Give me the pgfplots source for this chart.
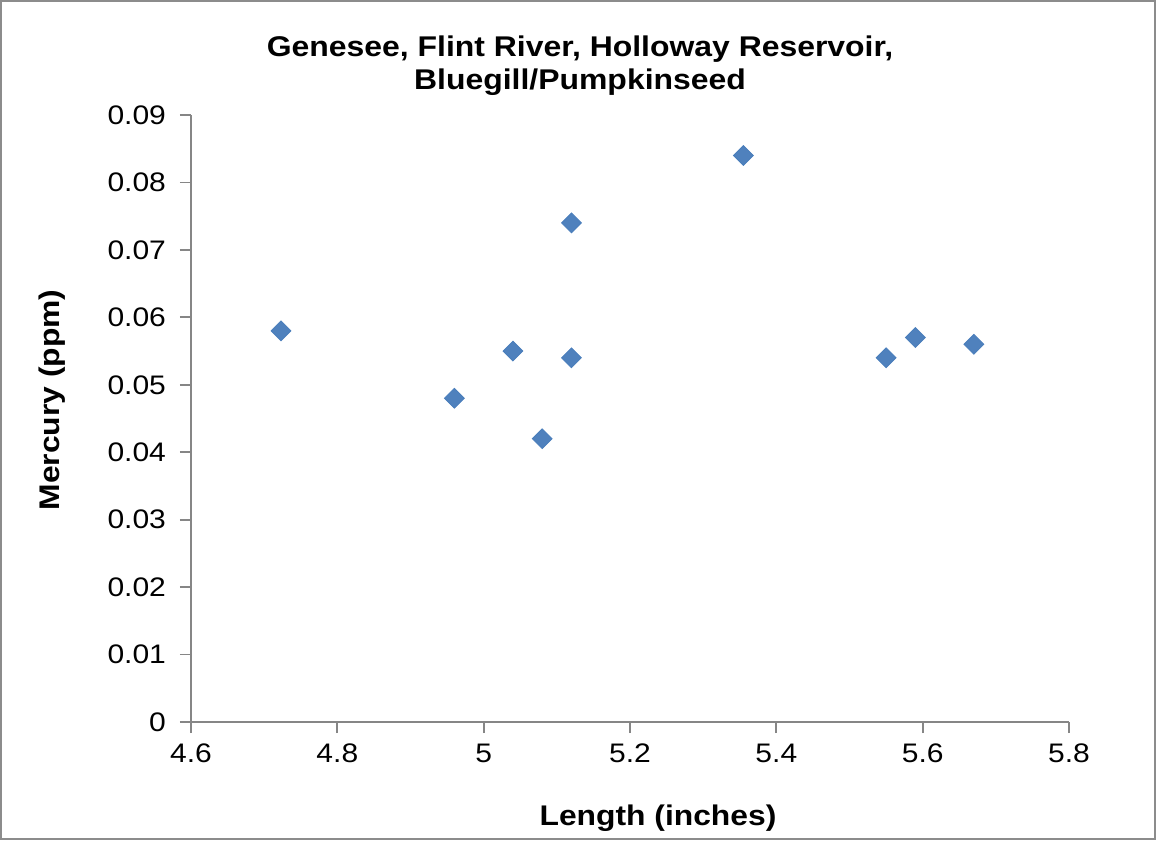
\documentclass[border=0pt]{standalone}
\usepackage{pgfplots}
\pgfplotsset{compat=1.18}
\usepackage{fontspec}
\setmainfont{Liberation Sans}[FakeStretch=1.12]
\definecolor{xlblue}{HTML}{4F81BD}
\definecolor{xlblueedge}{HTML}{4A7EBB}
\definecolor{xlgray}{HTML}{868686}
\definecolor{framegray}{HTML}{8C8C8C}
\begin{document}
\begin{tikzpicture}
\useasboundingbox (-95.5pt,-59.5pt) rectangle (482.5pt,361pt);
\draw[framegray, line width=0.8pt] (-95pt,-58.5pt) rectangle (482pt,360.5pt);
\begin{axis}[
    at={(0pt,0pt)}, anchor=south west,
    scale only axis,
    width=439pt, height=303.5pt,
    xmin=4.6, xmax=5.8,
    ymin=0, ymax=0.09,
    axis lines*=left,
    axis line style={xlgray, line width=0.9pt},
    tick style={xlgray, line width=0.9pt},
    tick align=outside,
    major tick length=5.5pt,
    xtick={4.6,4.8,5.0,5.2,5.4,5.6,5.8},
    ytick={0,0.01,0.02,0.03,0.04,0.05,0.06,0.07,0.08,0.09},
    scaled y ticks=false,
    /pgf/number format/fixed,
    /pgf/number format/assume math mode=true,
    yticklabel style={/pgf/number format/precision=2, xshift=-3.5pt},
    xticklabel style={yshift=-2pt},
    ticklabel style={font=\fontsize{13.4}{16}\selectfont, text=black},
    clip=false,
]
\addplot[only marks, mark=square*, mark size=3.5pt,
    mark options={rotate=45, fill=xlblue, draw=xlblueedge, line width=0.4pt}]
    coordinates {
    (4.723,0.058) (4.96,0.048) (5.04,0.055) (5.08,0.042) (5.12,0.074)
    (5.12,0.054) (5.355,0.084) (5.55,0.054) (5.59,0.057) (5.67,0.056)
    };
\end{axis}
\node[font=\bfseries\fontsize{14.25}{17}\selectfont, anchor=base] at (194.5pt,332.5pt) {Genesee, Flint River, Holloway Reservoir,};
\node[font=\bfseries\fontsize{14.25}{17}\selectfont, anchor=base] at (194.5pt,316pt) {Bluegill/Pumpkinseed};
\node[font=\bfseries\fontsize{14.2}{17}\selectfont, rotate=90] at (-69.5pt,161pt) {Mercury (ppm)};
\node[font=\bfseries\fontsize{14.2}{17}\selectfont] at (233.5pt,-48pt) {Length (inches)};
\end{tikzpicture}
\end{document}
